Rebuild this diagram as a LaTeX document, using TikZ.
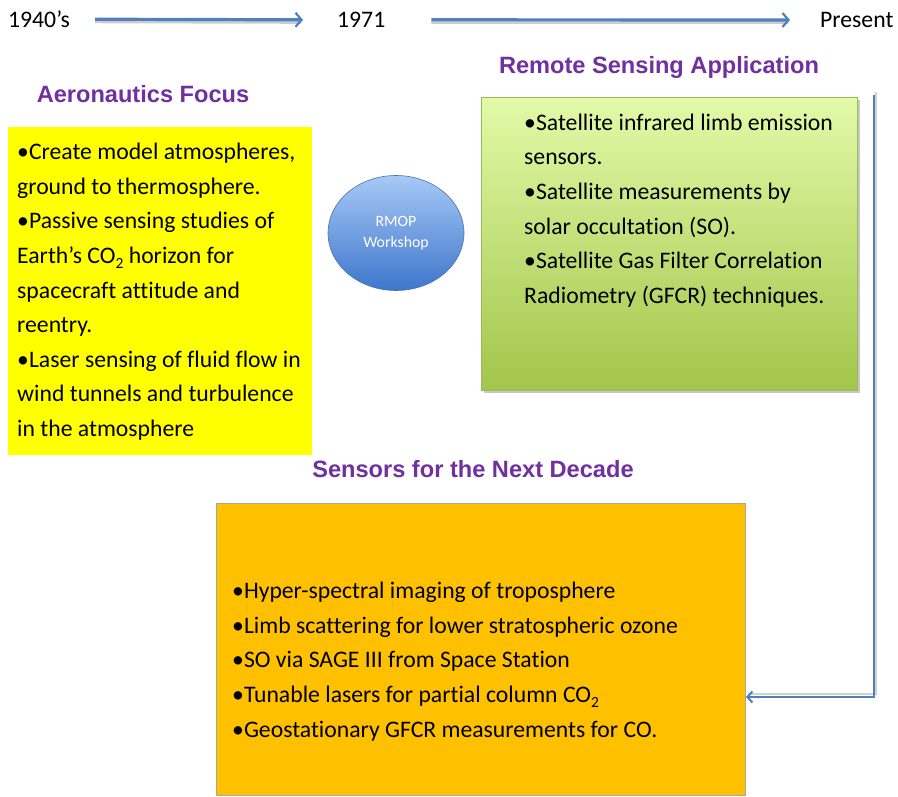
\documentclass[tikz,border=0pt]{standalone}
\usepackage{fontspec}
\setmainfont{Carlito}[Ligatures={NoCommon}]
\newfontfamily\titlefont{Liberation Sans}
\usetikzlibrary{arrows.meta,shapes.geometric}
\definecolor{flowblue}{HTML}{4F81BD}
\definecolor{titlepurple}{HTML}{7030A0}
\definecolor{boxyellow}{HTML}{FFFF00}
\definecolor{boxorange}{HTML}{FFC000}
\definecolor{greentop}{HTML}{E2FAA8}
\definecolor{greenbot}{HTML}{A2C54A}
\definecolor{greenline}{HTML}{9BBB59}
\definecolor{ovaltop}{HTML}{A8C9F6}
\definecolor{ovalbot}{HTML}{3D76CC}
\newcommand\lowtwo{\raisebox{-4.5pt}{\fontsize{15.5}{15.5}\selectfont 2}}
\tikzset{
  bodytext/.style={inner sep=0pt, anchor=north west, align=left,
    font=\fontsize{23.7}{34.6}\selectfont},
  yeartext/.style={inner sep=0pt, anchor=base west, font=\fontsize{23.7}{28}\selectfont},
  titletext/.style={inner sep=0pt, anchor=base, text=titlepurple,
    font=\titlefont\bfseries\fontsize{23.6}{28}\selectfont},
  flowline/.style={draw=flowblue, line width=3.2pt,
    -{Straight Barb[length=6pt,width=14pt,line width=2.2pt]}},
  shadowline/.style={draw=black!20, line width=3pt},
  panel/.style={inner sep=0pt, anchor=north west},
}
\begin{document}
\begin{tikzpicture}[x=1pt,y=-1pt]
\useasboundingbox[fill=white] (0,0) rectangle (898,797);

% timeline
\node[yeartext] (t1940) at (8,27.5) {1940’s};
\node[yeartext] (t1971) at (337,27.5) {1971};
\node[yeartext] (tpresent) at (820,27.5) {Present};
\draw[shadowline] ([xshift=25pt,yshift=-2.5pt]t1940.east) -- ([xshift=-36pt,yshift=-2.5pt]t1971.west);
\draw[shadowline] ([xshift=46pt,yshift=-2.5pt]t1971.east) -- ([xshift=-32pt,yshift=-2.5pt]tpresent.west);
\draw[flowline] ([xshift=25pt]t1940.east) -- ([xshift=-34pt]t1971.west);
\draw[flowline] ([xshift=46pt]t1971.east) -- ([xshift=-30pt]tpresent.west);

% titles
\node[titletext] (aerotitle) at (143,102.5) {Aeronautics Focus};
\node[titletext] (remotetitle) at (659,73.5) {Remote Sensing Application};
\node[titletext] (nexttitle) at (473,477.5) {Sensors for the Next Decade};

% yellow box
\node[panel, fill=boxyellow, minimum width=304pt, minimum height=328pt] (aero) at (8,127) {};
\node[bodytext] (aerotext) at (17,159.5-24.2) {\strut•Create model atmospheres,\\
ground to thermosphere.\\
•Passive sensing studies of\\
Earth’s CO\lowtwo{} horizon for\\
spacecraft attitude and\\
reentry.\\
•Laser sensing of fluid flow in\\
wind tunnels and turbulence\\
in the atmosphere};

% RMOP oval
\node[ellipse, draw=flowblue!90!black, line width=0.6pt, top color=ovaltop, bottom color=ovalbot,
  minimum width=136pt, minimum height=115pt, inner sep=0pt, align=center, text=white,
  font=\fontsize{15.8}{21}\selectfont] (rmop) at (396,233) {RMOP\\Workshop};

% green box
\fill[black!22] (484,100) rectangle (860,393);
\node[panel, draw=greenline, line width=0.6pt, top color=greentop, bottom color=greenbot,
  minimum width=376pt, minimum height=293pt] (remote) at (481,97) {};
\node[bodytext] (remotetext) at (524,130-24.2) {\strut•Satellite infrared limb emission\\
sensors.\\
•Satellite measurements by\\
solar occultation (SO).\\
•Satellite Gas Filter Correlation\\
Radiometry (GFCR) techniques.};

% orange box
\node[panel, fill=boxorange, draw=black!35, line width=0.6pt,
  minimum width=529pt, minimum height=292pt] (sensors) at (216,503) {};
\node[bodytext] (sensorstext) at (232,598.5-24.2) {\strut•Hyper-spectral imaging of troposphere\\
•Limb scattering for lower stratospheric ozone\\
•SO via SAGE III from Space Station\\
•Tunable lasers for partial column CO\lowtwo\\
•Geostationary GFCR measurements for CO.};

% connector down the right side
\coordinate (flowtop) at (874,95);
\coordinate (flowend) at (746,697);
\draw[draw=black!18, line width=2.8pt] ([xshift=2pt,yshift=3pt]flowtop) |- ([xshift=2pt,yshift=3pt]flowend);
\draw[draw=flowblue, line width=2.8pt, -{Straight Barb[length=5pt,width=11pt,line width=2pt]}]
  (flowtop) |- (flowend);
\end{tikzpicture}
\end{document}
